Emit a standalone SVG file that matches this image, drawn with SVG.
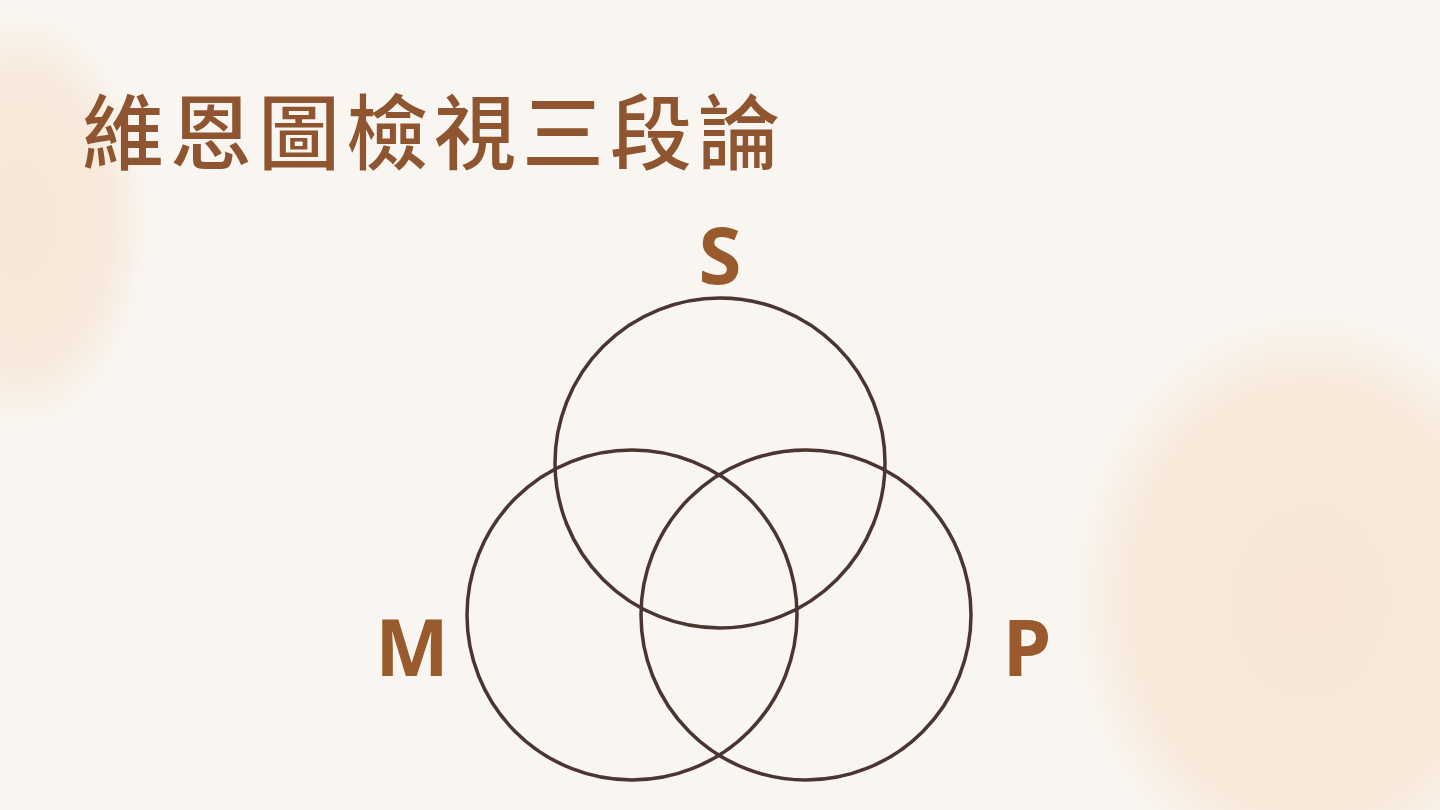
<svg xmlns="http://www.w3.org/2000/svg" width="1440" height="810" viewBox="0 0 1440 810">
<defs>
<radialGradient id="blobL" cx="0.5" cy="0.5" r="0.5">
<stop offset="0" stop-color="#F6DCC3" stop-opacity="0.6"/>
<stop offset="0.7" stop-color="#F6DCC3" stop-opacity="0.45"/>
<stop offset="1" stop-color="#F6DCC3" stop-opacity="0"/>
</radialGradient>
<radialGradient id="blobR" cx="0.5" cy="0.5" r="0.5">
<stop offset="0" stop-color="#F7DEC6" stop-opacity="0.65"/>
<stop offset="0.75" stop-color="#F7DEC6" stop-opacity="0.5"/>
<stop offset="1" stop-color="#F7DEC6" stop-opacity="0"/>
</radialGradient>
<style>
.title{font-family:"Noto Sans CJK TC","Noto Sans CJK SC",sans-serif;font-size:82px;font-weight:500;fill:#8E5530;letter-spacing:6px}
.lbl{font-family:"Open Sans","Liberation Sans",sans-serif;font-size:78px;font-weight:700;fill:#995A2E;text-anchor:middle}
.ring{fill:none;stroke:#4B3530;stroke-width:3.5}
</style>
</defs>
<rect width="1440" height="810" fill="#F9F6F1"/>
<ellipse cx="20" cy="220" rx="130" ry="210" fill="url(#blobL)"/>
<ellipse cx="1310" cy="600" rx="240" ry="290" fill="url(#blobR)"/>
<text class="title" x="82" y="163">維恩圖檢視三段論</text>
<g id="S">
<circle class="ring" cx="720" cy="463" r="165"/>
<text class="lbl" x="720" y="284">S</text>
</g>
<g id="M">
<circle class="ring" cx="632" cy="615" r="165"/>
<text class="lbl" x="412" y="676">M</text>
</g>
<g id="P">
<circle class="ring" cx="806" cy="615" r="165"/>
<text class="lbl" x="1027" y="676">P</text>
</g>
<g id="connectors"/>
</svg>
